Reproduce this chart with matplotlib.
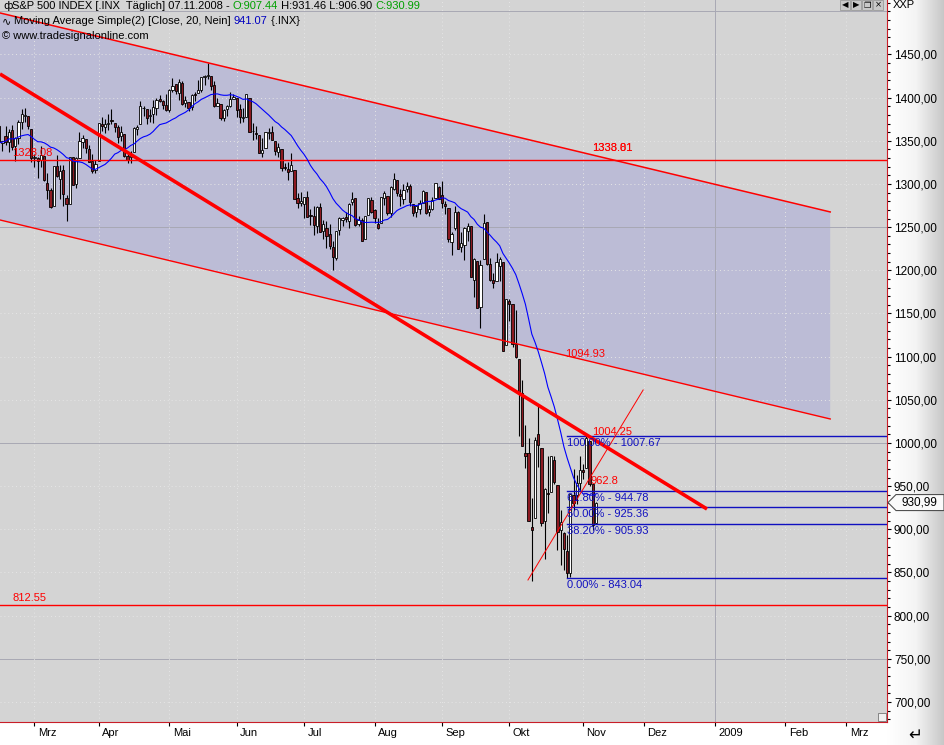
import matplotlib
matplotlib.use('Agg')
import matplotlib.pyplot as plt
import matplotlib.transforms as mtransforms
from matplotlib.patches import Polygon, Rectangle
from matplotlib.colors import LinearSegmentedColormap
from matplotlib.ticker import FixedLocator, MultipleLocator, FuncFormatter
import numpy as np
import pandas as pd

# ---------------------- data ---------------------- #
# closes 17.01.-13.02.2008, only needed to warm up the 20 day SMA
warmup_closes = [1333.25, 1325.19, 1310.50, 1338.60, 1352.07, 1330.61, 1353.96, 1362.30, 1355.81, 1378.55,
                 1395.42, 1380.82, 1336.64, 1326.45, 1336.91, 1331.29, 1339.13, 1348.86, 1367.21]

# daily bars 14.02.2008 - 07.11.2008 (one line per month)
opens = [
    1367.3, 1347.5, 1355.9, 1348.4, 1362.2, 1344.2, 1352.8, 1371.8, 1378.9, 1378.2, 1364.1,
    1330.5, 1329.6, 1327.7, 1332.2, 1301.5, 1293.2, 1274.4, 1321.1, 1305.3, 1316.1, 1283.2, 1277.2, 1330.9, 1299.7, 1330.3, 1349.1, 1352.5, 1340.3, 1327.0, 1315.9,
    1326.4, 1370.0, 1365.7, 1369.9, 1373.7, 1370.2, 1365.5, 1355.4, 1358.0, 1332.2, 1331.7, 1337.0, 1363.4, 1369.0, 1387.7, 1386.4, 1378.4, 1380.5, 1387.8, 1398.0, 1395.6, 1391.2,
    1386.0, 1409.2, 1415.3, 1405.6, 1417.5, 1394.3, 1394.9, 1389.4, 1404.4, 1405.7, 1408.4, 1423.9, 1425.3, 1424.5, 1414.1, 1390.8, 1392.2, 1376.0, 1386.5, 1390.5, 1398.4,
    1399.6, 1386.4, 1376.3, 1377.5, 1400.1, 1360.8, 1359.0, 1357.1, 1335.8, 1341.8, 1358.9, 1360.7, 1349.6, 1336.9, 1341.0, 1319.8, 1317.2, 1314.5, 1316.3, 1283.6, 1278.1,
    1276.7, 1285.0, 1263.0, 1262.9, 1251.8, 1273.4, 1245.3, 1248.7, 1241.6, 1226.8, 1214.7, 1246.3, 1258.2, 1261.8, 1257.1, 1278.9, 1283.2, 1253.5, 1257.8, 1236.4, 1264.5, 1281.4,
    1269.4, 1253.3, 1254.9, 1284.0, 1286.5, 1266.3, 1294.4, 1304.8, 1288.6, 1282.1, 1293.9, 1298.1, 1276.7, 1267.3, 1271.1, 1277.6, 1290.5, 1267.0, 1271.3, 1283.8, 1296.5,
    1287.8, 1276.6, 1271.8, 1233.2, 1249.5, 1268.0, 1227.5, 1229.0, 1245.9, 1250.9, 1188.3, 1210.3, 1157.1, 1213.1, 1255.4, 1207.6, 1188.8, 1187.9, 1204.5, 1209.1, 1113.8,
    1164.2, 1160.6, 1115.2, 1097.6, 1057.6, 988.9, 988.4, 902.3, 912.8, 1010.0, 994.6, 909.5, 942.3, 943.5, 980.4, 951.7, 899.1, 895.2, 874.3, 848.9, 939.5, 939.4, 953.1,
    968.7, 971.3, 1001.8, 952.4, 907.44,
]
highs = [
    1368.2, 1350.0, 1367.3, 1363.7, 1367.9, 1354.3, 1374.4, 1387.3, 1388.3, 1378.2, 1364.1,
    1335.1, 1331.0, 1344.2, 1332.2, 1313.2, 1295.0, 1320.7, 1333.3, 1321.7, 1321.5, 1287.3, 1330.7, 1331.3, 1330.7, 1359.7, 1357.1, 1352.5, 1345.6, 1334.9, 1328.3,
    1370.2, 1378.0, 1375.7, 1380.9, 1386.7, 1370.2, 1368.4, 1367.2, 1358.0, 1335.6, 1337.7, 1365.5, 1368.6, 1395.9, 1390.2, 1386.4, 1387.4, 1397.7, 1399.1, 1402.9, 1397.0, 1404.6,
    1410.1, 1422.7, 1415.3, 1421.6, 1419.5, 1402.4, 1394.9, 1404.1, 1406.3, 1420.2, 1424.4, 1425.8, 1440.2, 1424.5, 1419.1, 1399.1, 1392.2, 1387.4, 1391.3, 1406.3, 1404.5,
    1399.6, 1393.1, 1388.2, 1404.1, 1400.1, 1370.6, 1366.8, 1357.1, 1353.0, 1360.0, 1364.7, 1366.6, 1349.6, 1347.7, 1341.0, 1323.8, 1326.0, 1335.6, 1316.3, 1289.5, 1290.7,
    1285.3, 1292.2, 1271.5, 1274.0, 1274.2, 1277.4, 1257.7, 1257.3, 1253.5, 1234.4, 1245.5, 1262.3, 1262.2, 1267.7, 1277.4, 1291.2, 1283.2, 1263.2, 1260.1, 1263.2, 1284.3, 1284.9,
    1270.5, 1260.5, 1284.9, 1291.7, 1286.5, 1297.9, 1313.2, 1304.8, 1294.0, 1300.1, 1302.1, 1300.2, 1276.7, 1276.0, 1281.4, 1293.2, 1290.5, 1275.7, 1285.1, 1300.7, 1297.6,
    1303.0, 1280.6, 1271.8, 1244.9, 1274.4, 1268.7, 1243.9, 1250.0, 1255.1, 1250.9, 1214.8, 1210.3, 1211.6, 1265.1, 1255.4, 1214.8, 1197.4, 1220.0, 1215.8, 1209.1, 1167.0,
    1167.0, 1160.6, 1153.8, 1097.6, 1072.9, 1021.1, 1005.3, 936.4, 1006.9, 1044.3, 994.6, 947.7, 984.6, 985.4, 985.4, 951.7, 922.8, 896.3, 893.8, 940.5, 970.0, 963.2, 984.4,
    975.5, 1007.67, 1001.8, 952.4, 931.46,
]
lows = [
    1347.3, 1338.1, 1345.1, 1336.9, 1339.4, 1327.0, 1346.0, 1363.3, 1372.0, 1363.2, 1325.4,
    1320.0, 1307.4, 1320.2, 1303.4, 1282.4, 1272.7, 1274.4, 1307.9, 1282.1, 1274.9, 1257.0, 1277.2, 1298.4, 1295.2, 1330.3, 1341.2, 1336.4, 1325.7, 1312.9, 1312.8,
    1326.4, 1361.6, 1358.7, 1362.8, 1369.0, 1360.6, 1348.0, 1350.1, 1331.2, 1324.3, 1324.4, 1337.0, 1357.3, 1369.0, 1379.3, 1369.8, 1372.2, 1371.1, 1380.0, 1394.4, 1386.7, 1384.3,
    1383.1, 1406.3, 1404.4, 1397.1, 1391.2, 1389.4, 1384.1, 1386.2, 1396.3, 1405.7, 1406.9, 1414.4, 1421.6, 1409.1, 1388.8, 1390.2, 1373.7, 1373.1, 1378.2, 1388.6, 1398.1,
    1377.8, 1370.1, 1371.7, 1377.5, 1359.9, 1350.7, 1351.6, 1335.5, 1331.3, 1341.7, 1352.1, 1350.5, 1333.4, 1330.9, 1314.5, 1315.8, 1304.4, 1314.5, 1283.2, 1272.0, 1274.9,
    1260.7, 1261.5, 1252.0, 1240.7, 1242.8, 1244.6, 1236.8, 1225.4, 1225.0, 1200.4, 1211.4, 1241.4, 1251.8, 1255.7, 1248.8, 1276.1, 1251.5, 1251.8, 1234.4, 1236.4, 1264.5, 1266.0,
    1254.5, 1247.5, 1254.7, 1276.0, 1264.3, 1262.1, 1292.8, 1285.6, 1274.9, 1276.8, 1290.7, 1274.5, 1263.1, 1261.2, 1265.2, 1277.6, 1264.9, 1263.2, 1270.0, 1283.8, 1282.7,
    1272.2, 1265.6, 1232.8, 1217.2, 1247.1, 1224.5, 1221.6, 1211.5, 1233.8, 1192.7, 1169.3, 1155.9, 1133.5, 1213.1, 1205.6, 1187.2, 1179.8, 1187.9, 1187.5, 1106.4, 1113.8,
    1140.8, 1111.4, 1098.1, 1008.0, 996.2, 971.0, 909.2, 839.8, 912.8, 972.1, 904.0, 865.8, 918.7, 943.5, 952.5, 875.8, 858.4, 852.9, 843.04, 845.3, 922.3, 928.9, 944.6,
    958.6, 971.3, 949.9, 899.7, 906.90,
]
closes = [
    1348.86, 1349.99, 1348.78, 1360.03, 1342.53, 1353.11, 1371.80, 1381.29, 1380.02, 1367.68, 1330.63,
    1331.34, 1326.75, 1333.70, 1304.34, 1293.37, 1273.37, 1320.65, 1308.77, 1315.48, 1288.14, 1276.60, 1330.74, 1298.42, 1329.51, 1349.88, 1352.99, 1341.13, 1325.76, 1315.22, 1322.70,
    1370.18, 1367.53, 1369.31, 1370.40, 1372.54, 1365.54, 1354.49, 1360.55, 1332.83, 1328.32, 1334.43, 1364.71, 1365.56, 1390.33, 1388.17, 1375.94, 1379.93, 1388.82, 1397.84, 1396.37, 1390.94, 1385.59,
    1409.34, 1413.90, 1407.49, 1418.26, 1392.57, 1397.68, 1388.28, 1403.58, 1403.04, 1408.66, 1423.57, 1425.35, 1426.63, 1413.40, 1390.71, 1394.35, 1375.93, 1385.35, 1390.84, 1398.26, 1400.38,
    1385.67, 1377.65, 1377.20, 1404.05, 1360.68, 1361.76, 1358.44, 1335.49, 1339.87, 1360.03, 1360.14, 1350.93, 1337.81, 1342.83, 1317.93, 1318.00, 1314.29, 1321.97, 1283.15, 1278.38, 1280.00,
    1284.91, 1261.52, 1262.90, 1252.31, 1273.70, 1244.69, 1253.39, 1239.49, 1228.30, 1214.91, 1245.36, 1260.32, 1260.68, 1260.00, 1277.00, 1282.19, 1252.54, 1257.76, 1234.37, 1263.20, 1284.26, 1267.38,
    1260.31, 1249.01, 1284.88, 1289.19, 1266.07, 1296.32, 1305.32, 1289.59, 1285.83, 1292.93, 1298.20, 1278.60, 1266.69, 1274.54, 1277.72, 1292.20, 1266.84, 1271.51, 1281.66, 1300.68, 1282.83,
    1277.58, 1274.98, 1236.83, 1242.31, 1267.79, 1224.51, 1232.04, 1249.05, 1251.70, 1192.70, 1213.60, 1156.39, 1206.51, 1255.08, 1207.09, 1188.22, 1185.87, 1209.18, 1213.27, 1106.39, 1166.36,
    1161.06, 1114.28, 1099.23, 1056.89, 996.23, 984.94, 909.92, 899.22, 1003.35, 998.01, 907.84, 946.43, 940.55, 985.40, 955.05, 896.78, 908.11, 876.77, 848.92, 940.51, 930.09, 954.09, 968.75,
    966.30, 1005.75, 952.77, 904.88, 930.99,
]
FIRST_BAR = -11   # 14.02.2008 ; bar 0 = 03.03.2008

# month ticks (bar index of first trading day) and labels
month_pos = [0, 20, 42, 63, 84, 106, 127, 148, 171, 190, 212, 234, 253]
month_labels = ['Mrz', 'Apr', 'Mai', 'Jun', 'Jul', 'Aug', 'Sep', 'Okt', 'Nov', 'Dez', '2009', 'Feb', 'Mrz']

# drawing tools: (bar, price) end points
channel_upper = [(-10.75, 1498.1), (248.0, 1267.6)]
channel_lower = [(-10.75, 1258.3), (248.0, 1027.8)]
trend_thick = [(-10.75, 1427.4), (209.6, 923.5)]
fan_line = [(153.8, 841.3), (189.7, 1061.4)]
hlines = [1328.08, 812.55]
hline_labels = ['1328.08', '812.55']

fib_start = 166
fib_pct = ['100.00%', '61.80%', '50.00%', '38.20%', '0.00%']
fib_levels = [1007.67, 944.78, 925.36, 905.93, 843.04]

# tool labels: (bar, price, text)
tool_labels = [(173.8, 1341.7, '1333.81'), (173.8, 1341.7, '1338.01'), (165.4, 1103.1, '1094.93'),
               (173.8, 1012.7, '1004.25'), (173.2, 956.0, '962.8')]
# ----------------------------------------------------------- #

W, H = 945, 745
RED = '#FF0000'
BLUE = '#0000FF'
FIBBLUE = '#1010C0'
plt.rcParams['font.family'] = ['Liberation Sans', 'DejaVu Sans']

x = np.arange(len(closes)) + FIRST_BAR
o = np.array(opens); h = np.array(highs); l = np.array(lows); c = np.array(closes)
sma = pd.Series(warmup_closes + closes).rolling(20).mean().values[len(warmup_closes):]

fig = plt.figure(figsize=(W / 100, H / 100), dpi=100, facecolor='white')


def fx(px):
    return px / W


def fy(py):
    return 1 - py / H


# right price panel gradient
bg = fig.add_axes([887 / W, 0, 58 / W, 1], zorder=0)
grad = np.linspace(0, 1, 100).reshape(1, -1)
bg.imshow(grad, aspect='auto', extent=[0, 1, 0, 1],
          cmap=LinearSegmentedColormap.from_list('g', ['#FFFFFF', '#F4F4F4', '#C6C6C6']))
bg.axis('off')

ax = fig.add_axes([0, 23 / H, 887 / W, 722 / H], zorder=1)
ax.set_facecolor('#D4D4D4')
ax.set_xlim(-10.75, 265.7)
ax.set_ylim(676.8, 1513.1)

# grid: dotted every 50 / month, solid at 250 and at the new year
for p in np.arange(700, 1501, 50):
    if p % 250 == 0:
        ax.axhline(p, color='#A8A8B4', lw=0.7, zorder=2)
    else:
        ax.axhline(p, color='#E6E6E6', lw=0.7, ls=(0, (1, 3)), zorder=2)
for pos, lab in zip(month_pos, month_labels):
    if lab == '2009':
        ax.axvline(pos, color='#A8A8B4', lw=0.7, zorder=2)
    else:
        ax.axvline(pos, color='#E6E6E6', lw=0.7, ls=(0, (1, 3)), zorder=2)

# regression channel
(ux0, uy0), (ux1, uy1) = channel_upper
(lx0, ly0), (lx1, ly1) = channel_lower
ax.add_patch(Polygon([(ux0, uy0), (ux1, uy1), (lx1, ly1), (lx0, ly0)], closed=True,
                     facecolor='#BCBCD6', edgecolor='none', zorder=1))
ax.plot([ux0, ux1], [uy0, uy1], color=RED, lw=1.1, zorder=5)
ax.plot([lx0, lx1], [ly0, ly1], color=RED, lw=1.0, zorder=5)

for p in hlines:
    ax.axhline(p, color=RED, lw=1.0, zorder=5)
for p, t in zip(hlines, hline_labels):
    ax.annotate(t, xy=(-7, p), xytext=(0, 5), textcoords='offset points', color=RED,
                fontsize=8, va='center', ha='left', zorder=6)

# candles
up = c >= o
body_lo = np.minimum(o, c)
body_h = np.maximum(np.abs(c - o), 0.6)
ax.vlines(x, l, h, color='black', lw=0.8, zorder=3)
ax.bar(x[up], body_h[up], bottom=body_lo[up], width=0.7, color='white', edgecolor='black', lw=0.6, zorder=4)
ax.bar(x[~up], body_h[~up], bottom=body_lo[~up], width=0.7, color='#8C1A22', edgecolor='black', lw=0.6, zorder=4)

# moving average
ax.plot(x, sma, color=BLUE, lw=0.8, zorder=6)

# trend lines
ax.plot(*zip(*trend_thick), color=RED, lw=2.6, zorder=7, solid_capstyle='butt')
ax.plot(*zip(*fan_line), color=RED, lw=0.7, zorder=7)

# fibonacci retracement
for pct, lev in zip(fib_pct, fib_levels):
    ax.plot([fib_start, 265.7], [lev, lev], color=FIBBLUE, lw=1.0, zorder=6)
    ax.annotate(f'{pct} - {lev:.2f}', xy=(fib_start, lev), xytext=(0, -5), textcoords='offset points',
                color=FIBBLUE, fontsize=8, va='center', ha='left', zorder=8)

for bx, by, t in tool_labels:
    ax.text(bx, by, t, color=RED, fontsize=8, va='center', ha='left', zorder=8)

# axes styling
for side in ['top', 'left']:
    ax.spines[side].set_visible(False)
ax.spines['right'].set_color('#C81E28')
ax.spines['bottom'].set_color('#C81E28')
ax.yaxis.tick_right()
ax.yaxis.set_major_locator(FixedLocator(np.arange(700, 1451, 50)))
ax.yaxis.set_minor_locator(MultipleLocator(10))
ax.yaxis.set_major_formatter(FuncFormatter(lambda v, _: f'{v:.2f}'.replace('.', ',')))
ax.tick_params(axis='y', which='major', length=3, width=0.8, labelsize=8.5, pad=2)
ax.tick_params(axis='y', which='minor', length=2, width=0.8)
ax.set_xticks(month_pos)
ax.set_xticklabels([])
ax.tick_params(axis='x', length=3, width=0.8)
xt = ax.get_xaxis_transform()
for pos, lab in zip(month_pos, month_labels):
    ax.annotate(lab, xy=(pos, 0), xycoords=xt, xytext=(2.5, -8), textcoords='offset points',
                fontsize=8, va='center', ha='left', annotation_clip=False)

# last price marker
last = closes[-1]
ytr = mtransforms.blended_transform_factory(fig.transFigure, ax.transData)
dp = 8 / (722 / (1513.1 - 676.8))
ax.add_patch(Polygon([(fx(888), last), (fx(896), last + dp), (fx(944), last + dp), (fx(944), last - dp),
                      (fx(896), last - dp)], closed=True, transform=ytr, facecolor='#FAFAFA',
                     edgecolor='#505050', lw=0.8, clip_on=False, zorder=9))
ax.text(fx(919), last, f'{last:.2f}'.replace('.', ','), transform=ytr, fontsize=8.5,
        ha='center', va='center', clip_on=False, zorder=10)

# header texts, segments chained left to right
def chain(first, segs):
    prev = first
    for s, col in segs:
        prev = fig.text(0, 0, '', zorder=20) if False else ax.annotate(
            s, xy=(1, 0.5), xycoords=prev, va='center', ha='left', fontsize=8, color=col,
            annotation_clip=False, zorder=20)


t1 = fig.text(fx(12), fy(6), 'S&P 500 INDEX [.INX  Täglich] 07.11.2008 - ', fontsize=8, va='center', zorder=20)
chain(t1, [('O:907.44', '#00A000'), (' H:931.46 L:906.90 ', 'black'), ('C:930.99', '#00A000')])
fig.text(fx(3), fy(6), 'ф', fontsize=8, va='center', family='DejaVu Sans')
t2 = fig.text(fx(14), fy(21), 'Moving Average Simple(2) [Close, 20, Nein] ', fontsize=8, va='center', zorder=20)
chain(t2, [('941.07', '#0000C0'), (' {.INX}', 'black')])
fig.text(fx(2), fy(21), '∿', fontsize=8, va='center', family='DejaVu Sans')
fig.text(fx(2), fy(36), '© www.tradesignalonline.com', fontsize=8, va='center', zorder=20)

# right panel title and window buttons
fig.text(fx(893), fy(5), 'XXP', fontsize=8, va='center')
for i, g in enumerate(['◀', '▶', '❐', '×']):
    bx = 840 + i * 11
    fig.patches.append(Rectangle((fx(bx), fy(10)), 10 / W, 10 / H, transform=fig.transFigure,
                                 facecolor='#C8C8C8', edgecolor='#909090', lw=0.5, zorder=20))
    fig.text(fx(bx + 5), fy(5), g, fontsize=6, ha='center', va='center', family='DejaVu Sans', zorder=21)

# corner icons
fig.patches.append(Rectangle((fx(878), fy(721)), 8 / W, 8 / H, transform=fig.transFigure,
                             facecolor='#F0F0F0', edgecolor='#606060', lw=0.5, zorder=20))
fig.text(fx(915), fy(735), '↵', fontsize=12, ha='center', va='center', family='DejaVu Sans')

fig.savefig('out.png', dpi=100, facecolor=fig.get_facecolor())
